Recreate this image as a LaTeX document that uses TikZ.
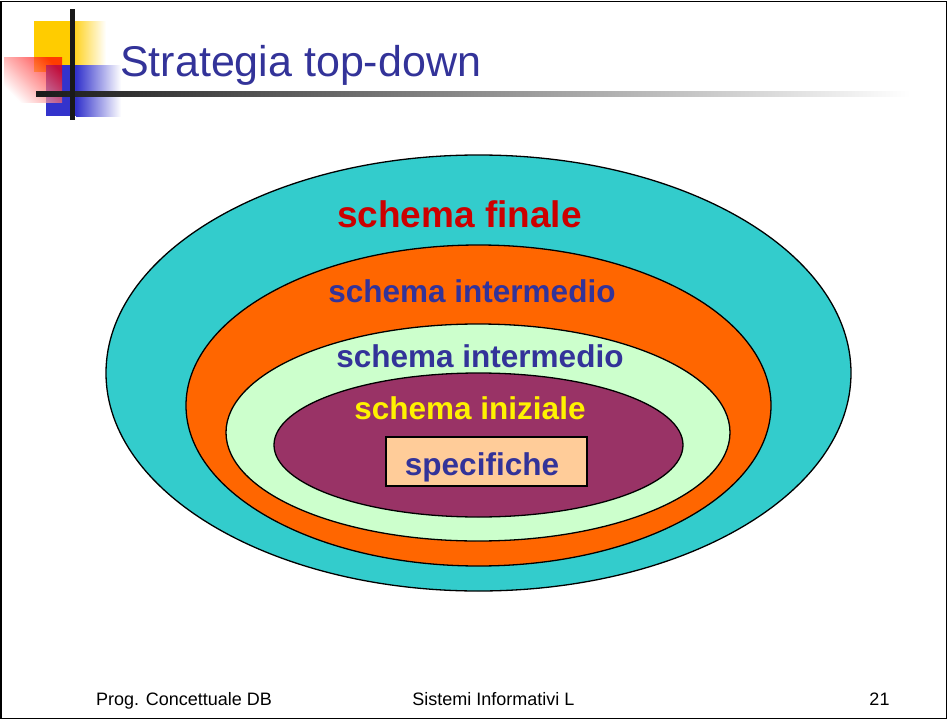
\documentclass[tikz,border=0pt]{standalone}
\usepackage{fontspec}
\setmainfont{Liberation Sans}[Ligatures=CommonOff]
\usetikzlibrary{shapes, positioning}

\definecolor{cyanlayer}{RGB}{51,204,204}
\definecolor{orangelayer}{RGB}{255,102,0}
\definecolor{greenlayer}{RGB}{204,255,204}
\definecolor{purplelayer}{RGB}{153,51,102}
\definecolor{specfill}{RGB}{255,204,153}
\definecolor{titleblue}{RGB}{51,51,153}
\definecolor{finalred}{RGB}{204,0,0}
\definecolor{logoyellow}{RGB}{255,204,0}
\definecolor{logoblue}{RGB}{51,51,204}
\definecolor{logored}{RGB}{255,0,0}

\begin{document}
\begin{tikzpicture}[x=1pt, y=-1pt]
    \tikzset{
        layer/.style = {ellipse, draw=black, line width=1.3pt, inner sep=0pt},
        layertext/.style = {anchor=base, inner sep=0pt, font=\fontsize{31.5}{34}\selectfont\bfseries, text=titleblue},
        footer/.style = {anchor=base, inner sep=0pt, font=\fontsize{18}{20}\selectfont}
    }

    \useasboundingbox (0,0) rectangle (948,720);
    \draw[line width=1.5pt] (0.75,1.5) rectangle (946.5,718.5);

    % logo
    \fill[logoyellow] (34,21) rectangle (70,72);
    \shade[left color=logoyellow, right color=white] (70,21) rectangle (106,72);
    \fill[logoblue] (46,65) rectangle (76,116);
    \shade[left color=logoblue, right color=white] (76,65) rectangle (121,116);
    \shade[top color=white, bottom color=logored, shading angle=135, opacity=0.7] (4,57) rectangle (62,102);
    \shade[left color=black!90, right color=white] (36,91) rectangle (910,96);
    \fill[black!90] (70,9) rectangle (75,120);

    \node[anchor=base west, inner sep=0pt, font=\fontsize{43}{46}\selectfont, text=titleblue] (title) at (120,76) {Strategia top-down};

    % layers
    \node[layer, fill=cyanlayer, minimum width=745, minimum height=436] (finale) at (478.5,373) {};
    \node[layer, fill=orangelayer, minimum width=585, minimum height=321] (inter_1) at (478.5,405.5) {};
    \node[layer, fill=greenlayer, minimum width=504, minimum height=217] (inter_2) at (478,432.5) {};
    \node[layer, fill=purplelayer, minimum width=409, minimum height=144] (iniziale) at (478.5,445) {};
    \node[draw=black, line width=1.3pt, fill=specfill, minimum width=201, minimum height=49, inner sep=0pt] (spec) at (486.5,461.5) {};

    \node[layertext, font=\fontsize{37}{40}\selectfont\bfseries, text=finalred] (t_finale) at (459.5,227) {schema finale};
    \node[layertext] (t_inter_1) at (472,302) {schema intermedio};
    \node[layertext] (t_inter_2) at (480,367) {schema intermedio};
    \node[layertext, text=yellow] (t_iniziale) at (470,419) {schema iniziale};
    \node[layertext] (t_spec) at (482,475) {specifiche};

    % footer
    \node[footer] (f_left) at (184,705) {Prog. Concettuale DB};
    \node[footer] (f_mid) at (493.5,705) {Sistemi Informativi L};
    \node[footer] (f_right) at (879.5,705) {21};
\end{tikzpicture}
\end{document}
